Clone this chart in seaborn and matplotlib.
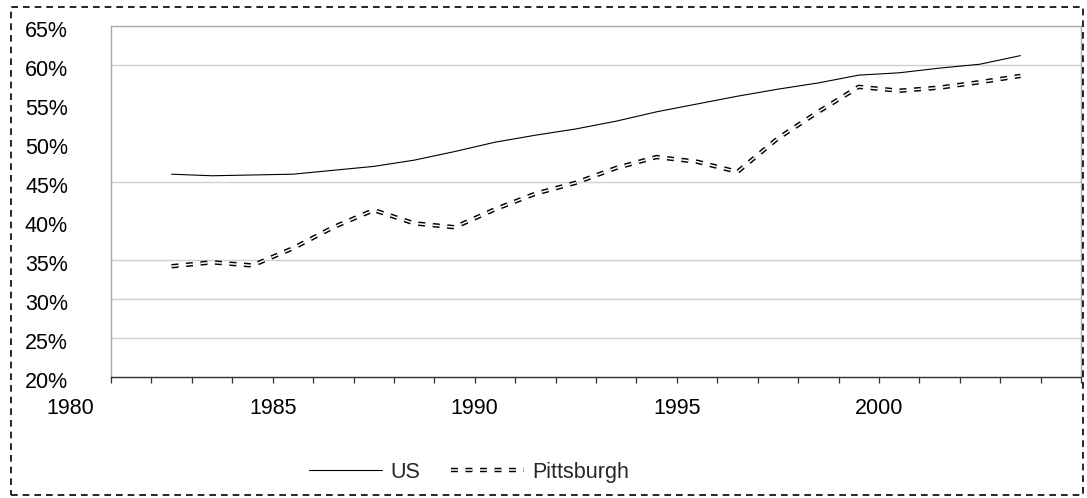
import matplotlib
matplotlib.use("Agg")
import matplotlib.pyplot as plt
import matplotlib.patheffects as pe
from matplotlib.patches import Rectangle
from matplotlib.transforms import ScaledTranslation
import seaborn as sns
import pandas as pd

# ---- data ----
years = [1982, 1983, 1984, 1985, 1986, 1987, 1988, 1989, 1990, 1991, 1992,
         1993, 1994, 1995, 1996, 1997, 1998, 1999, 2000, 2001, 2002, 2003]
us = [46.0, 45.8, 45.9, 46.0, 46.5, 47.0, 47.8, 48.9, 50.1, 51.0, 51.8,
      52.8, 54.0, 55.0, 56.0, 56.9, 57.7, 58.7, 59.0, 59.6, 60.1, 61.2]
pittsburgh = [34.2, 34.7, 34.3, 36.5, 39.2, 41.4, 39.7, 39.2, 41.5, 43.5, 44.9,
              46.8, 48.2, 47.6, 46.3, 50.6, 54.0, 57.2, 56.7, 57.1, 57.8, 58.6]
x_label_years = [1980, 1985, 1990, 1995, 2000]
y_ticks = [20, 25, 30, 35, 40, 45, 50, 55, 60, 65]
grid_values = [25, 30, 35, 45, 60]
series_names = ["US", "Pittsburgh"]

df = pd.DataFrame({"year": years, "US": us, "Pittsburgh": pittsburgh})
df["xpos"] = df["year"] + 0.5  # points sit in the middle of each year slot

sns.set_theme(style="white")
plt.rcParams["font.family"] = ["Liberation Sans", "DejaVu Sans"]

W, H = 1087, 498
fig = plt.figure(figsize=(W / 100, H / 100), dpi=100)
ax = fig.add_axes([111 / W, 1 - 377 / H, (1081 - 111) / W, (377 - 26) / H])

for g in grid_values:
    ax.axhline(g, color="#d0d0d0", lw=1.0, zorder=0)

sns.lineplot(data=df, x="xpos", y="US", ax=ax, color="black", lw=0.8,
             label=series_names[0], zorder=3)
sns.lineplot(data=df, x="xpos", y="Pittsburgh", ax=ax, color="white", lw=1.1,
             dashes=False, label=series_names[1], zorder=3,
             linestyle=(0, (4.5, 5.0)),
             path_effects=[pe.Stroke(linewidth=3.2, foreground="black",
                                     capstyle="butt"),
                           pe.Normal()])

ax.set_xlim(1981, 2005)
ax.set_ylim(20, 65)
ax.set_xlabel("")
ax.set_ylabel("")

XPAD = 10.5
TICKLEN = 4.5
tick_years = list(range(1981, 2006))
ax.set_xticks(tick_years)
ax.set_xticklabels([str(t) if t in x_label_years else "" for t in tick_years])
ax.tick_params(axis="x", direction="out", length=TICKLEN, width=0.9,
               color="#303030", pad=XPAD, labelsize=15.5, labelcolor="black",
               bottom=True)
for yr in x_label_years:
    if yr < 1981:
        ax.annotate(str(yr), xy=(yr, 0), xycoords=("data", "axes fraction"),
                    xytext=(0, -(TICKLEN + XPAD)), textcoords="offset points",
                    ha="center", va="top", fontsize=15.5, color="black",
                    annotation_clip=False)

ax.set_yticks(y_ticks)
ax.set_yticklabels([f"{v}%" for v in y_ticks])
ax.tick_params(axis="y", length=0, pad=31, labelsize=15.5, labelcolor="black")
for lab in ax.get_yticklabels():
    lab.set_transform(lab.get_transform() +
                      ScaledTranslation(0, -3 / 100, fig.dpi_scale_trans))

for side in ["left", "top", "right"]:
    ax.spines[side].set_color("#a8a8a8")
    ax.spines[side].set_linewidth(1.0)
ax.spines["bottom"].set_color("#303030")
ax.spines["bottom"].set_linewidth(1.0)

ax.get_legend().remove()
handles, labels = ax.get_legend_handles_labels()
fig.legend(handles, labels, loc="center", bbox_to_anchor=(469 / W, 1 - 472 / H),
           ncol=2, frameon=False, fontsize=15.5, handlelength=3.4,
           handletextpad=0.4, columnspacing=1.4)

border = Rectangle((11 / W, 3 / H), (1083 - 11) / W, (495 - 7) / H,
                   transform=fig.transFigure, fill=False, edgecolor="black",
                   lw=1.2, linestyle=(0, (4, 3)), clip_on=False)
fig.patches.append(border)

fig.savefig("out.png", dpi=100)
